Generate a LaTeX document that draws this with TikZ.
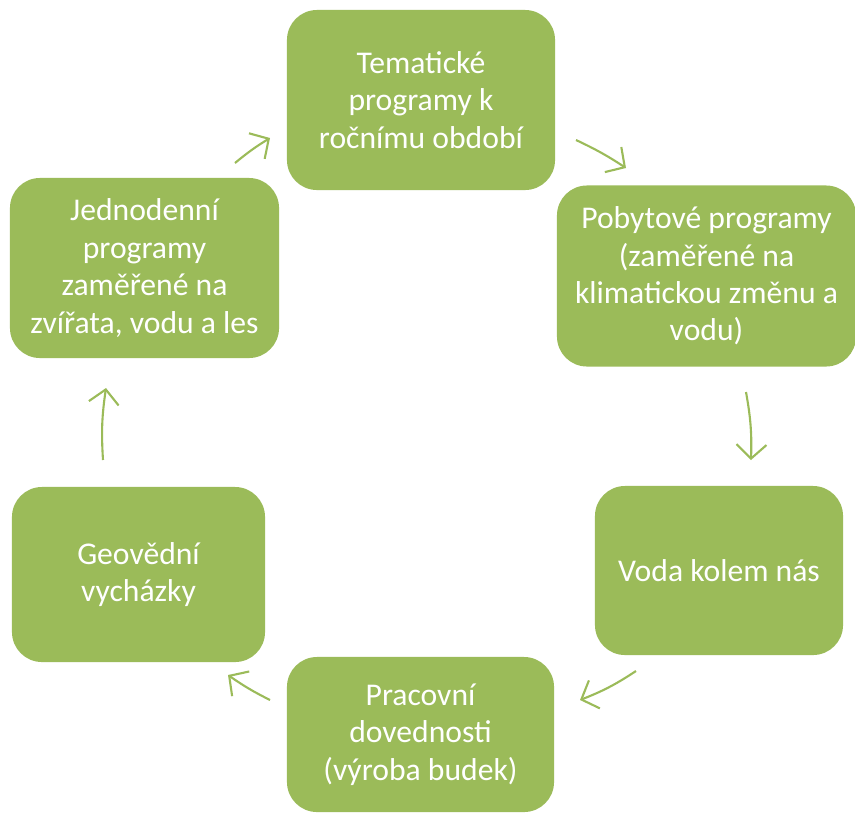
\documentclass[tikz,border=0pt]{standalone}
\usepackage{fontspec}
\setmainfont{Carlito}
\usetikzlibrary{arrows.meta}
\definecolor{olivegreen}{HTML}{9BBB59}
\begin{document}
\begin{tikzpicture}[x=0.025cm, y=-0.025cm,
        box/.style={fill=olivegreen, rounded corners=0.75cm, text=white, align=center,
            font=\fontsize{22.5}{26.6}\selectfont, inner sep=0pt},
        cyc/.style={draw=olivegreen, line width=1.5pt, -{Straight Barb[length=3.5mm, width=7.5mm]}}]
        \useasboundingbox (0,0) rectangle (855,812);
        \node[box, minimum width=6.7cm, minimum height=4.5cm] (tema) at (421,100)
            {Tematické\\programy k\\ročnímu období};
        \node[box, minimum width=7.475cm, minimum height=4.525cm] (pobyt) at (706.5,276)
            {Pobytové programy\\(zaměřené na\\klimatickou změnu a\\vodu)};
        \node[box, minimum width=6.2cm, minimum height=4.225cm] (voda) at (719,570.5)
            {Voda kolem nás};
        \node[box, minimum width=6.675cm, minimum height=3.875cm] (prac) at (420.5,734.5)
            {Pracovní\\dovednosti\\(výroba budek)};
        \node[box, minimum width=6.325cm, minimum height=4.375cm] (geo) at (138.5,574.5)
            {Geovědní\\vycházky};
        \node[box, minimum width=6.725cm, minimum height=4.5cm] (jedno) at (144.5,268)
            {Jednodenní\\programy\\zaměřené na\\zvířata, vodu a les};
        \coordinate (jt1) at (235,163);
        \coordinate (jt2) at (270,138);
        \coordinate (tp1) at (576,140);
        \coordinate (tp2) at (626,168);
        \coordinate (pv1) at (746,392);
        \coordinate (pv2) at (751,460);
        \coordinate (vp1) at (636,671);
        \coordinate (vp2) at (580,700);
        \coordinate (pg1) at (270,700);
        \coordinate (pg2) at (228,675);
        \coordinate (gj1) at (103,460);
        \coordinate (gj2) at (106,388);
        \draw[cyc] (jt1) to[bend left=4] (jt2);
        \draw[cyc] (tp1) to[bend left=4] (tp2);
        \draw[cyc] (pv1) to[bend left=6] (pv2);
        \draw[cyc] (vp1) to[bend left=6] (vp2);
        \draw[cyc] (pg1) to[bend left=4] (pg2);
        \draw[cyc] (gj1) to[bend left=6] (gj2);
    \end{tikzpicture}
\end{document}
